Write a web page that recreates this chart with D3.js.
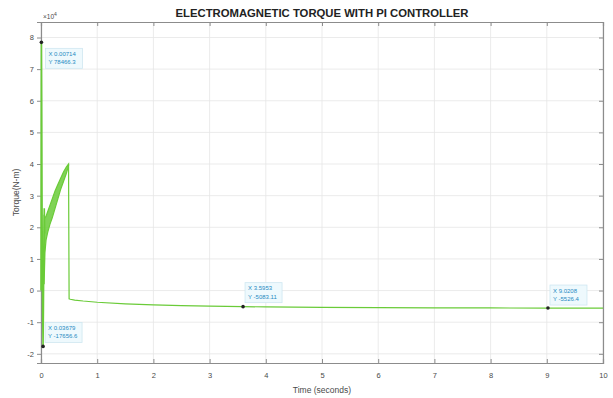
<!DOCTYPE html>
<html>
<head>
<meta charset="utf-8">
<script src="https://cdn.jsdelivr.net/npm/d3@7"></script>
<style>
  html, body { margin: 0; padding: 0; background: #ffffff; }
  svg { display: block; font-family: "Liberation Sans", Arial, sans-serif; }
</style>
</head>
<body>
<svg id="chart" width="613" height="398"></svg>
<script>
// Axis ticks
const timeTicks = [0, 1, 2, 3, 4, 5, 6, 7, 8, 9, 10];
const torqueTicks = [-20000, -10000, 0, 10000, 20000, 30000, 40000, 50000, 60000, 70000, 80000];

// Start-up transient (s, N·m)
const startTime   = [0, 0.004, 0.00714, 0.012, 0.018, 0.025, 0.031, 0.03679, 0.043, 0.05, 0.058, 0.066];
const startTorque = [0, 52000, 78466.3, 61000, 30000, 4000, -9000, -17656.6, -6000, 12000, 26000, 18000];

// Envelope of the fast oscillation before the load step
const bandTime  = [0.055, 0.07, 0.09, 0.12, 0.16, 0.2, 0.25, 0.3, 0.35, 0.4, 0.45, 0.49];
const bandUpper = [24000, 23000, 23500, 25000, 27000, 29000, 31500, 33500, 35500, 37500, 39000, 40000];
const bandLower = [2000, 12000, 16000, 18500, 21000, 23000, 26000, 29000, 32000, 34500, 37000, 39500];

// Settling after the step
const steadyTime   = [0.49, 0.5, 0.52, 0.6, 0.75, 1, 1.5, 2, 2.5, 3, 3.5953, 4, 5, 6, 7, 8, 9.0208, 10];
const steadyTorque = [40000, -2600, -2750, -3000, -3300, -3700, -4200, -4550, -4780, -4950, -5083.11, -5160, -5300, -5400, -5460, -5500, -5526.4, -5545];

// Data tips
const tipTime   = [0.00714, 0.03679, 3.5953, 9.0208];
const tipTorque = [78466.3, -17656.6, -5083.11, -5526.4];
const tipOffsets = [[4, 6], [2, -24], [2, -24], [2, -23]];

const svg = d3.select("#chart");
const L = 41, R = 603, T = 22, B = 363;

const x = d3.scaleLinear().domain([0, 10]).range([L, R]);
const y = d3.scaleLinear().domain([-22900, 84900]).range([B, T]);

const gridColor = "#e6e6e6";
const axisColor = "#8c8c8c";
const textColor = "#4a4a4a";
const lineColor = "#6acb38";

// Grid
svg.append("g").selectAll("line.gx").data(timeTicks).join("line")
  .attr("x1", d => x(d)).attr("x2", d => x(d)).attr("y1", T).attr("y2", B)
  .attr("stroke", gridColor).attr("stroke-width", 0.8);
svg.append("g").selectAll("line.gy").data(torqueTicks).join("line")
  .attr("x1", L).attr("x2", R).attr("y1", d => y(d)).attr("y2", d => y(d))
  .attr("stroke", gridColor).attr("stroke-width", 0.8);

// Axes
const fmtY = d => String(d / 10000);
const xAxis = d3.axisBottom(x).tickValues(timeTicks).tickSize(-4).tickPadding(10).tickFormat(d3.format("d"));
const yAxis = d3.axisLeft(y).tickValues(torqueTicks).tickSize(4).tickPadding(3).tickFormat(fmtY);
const xTop = d3.axisTop(x).tickValues(timeTicks).tickSize(-4).tickFormat("");
const yRight = d3.axisRight(y).tickValues(torqueTicks).tickSize(-4).tickFormat("");

function styleAxis(g) {
  g.select(".domain").attr("stroke", axisColor).attr("stroke-width", 1.2);
  g.selectAll(".tick line").attr("stroke", axisColor);
  g.selectAll(".tick text").attr("fill", textColor).attr("font-size", 7.5)
    .attr("font-family", "Liberation Sans, Arial, sans-serif");
}
svg.append("g").attr("transform", `translate(0,${B})`).call(xAxis).call(styleAxis);
svg.append("g").attr("transform", `translate(${L},0)`).call(yAxis).call(styleAxis);
svg.append("g").attr("transform", `translate(0,${T})`).call(xTop).call(styleAxis);
svg.append("g").attr("transform", `translate(${R},0)`).call(yRight).call(styleAxis);

// Exponent
const ex = svg.append("text").attr("x", L + 2).attr("y", T - 3)
  .attr("fill", textColor).attr("font-size", 6.5).text("×10");
ex.append("tspan").attr("dy", -3).attr("font-size", 5).text("4");

// Torque curve
const line = d3.line().x(d => x(d[0])).y(d => y(d[1]));
const area = d3.area().x(d => x(d[0])).y0(d => y(d[1])).y1(d => y(d[2]));

const bandData = bandTime.map((t, i) => [t, bandLower[i], bandUpper[i]]);
svg.append("path").datum(bandData).attr("d", area)
  .attr("fill", lineColor).attr("fill-opacity", 0.85)
  .attr("stroke", lineColor).attr("stroke-width", 1.2);

svg.append("path").datum(startTime.map((t, i) => [t, startTorque[i]]))
  .attr("d", line).attr("fill", "none")
  .attr("stroke", lineColor).attr("stroke-width", 1.6);

svg.append("path").datum(steadyTime.map((t, i) => [t, steadyTorque[i]]))
  .attr("d", line).attr("fill", "none")
  .attr("stroke", lineColor).attr("stroke-width", 1.2);

// Data tips
const tips = svg.append("g");
tipTime.forEach((t, i) => {
  const px = x(t), py = y(tipTorque[i]);
  const bx = px + tipOffsets[i][0], by = py + tipOffsets[i][1];
  const g = tips.append("g");
  g.append("rect").attr("x", bx).attr("y", by).attr("width", 37).attr("height", 20)
    .attr("fill", "#eef9fd").attr("stroke", "#cfe7f1").attr("stroke-width", 0.8);
  g.append("text").attr("x", bx + 3).attr("y", by + 7.5).attr("font-size", 6)
    .attr("fill", "#1f8ac2").text(`X ${t}`);
  g.append("text").attr("x", bx + 3).attr("y", by + 16).attr("font-size", 6)
    .attr("fill", "#1f8ac2").text(`Y ${tipTorque[i]}`);
  g.append("circle").attr("cx", px).attr("cy", py).attr("r", 1.8).attr("fill", "#222");
});

// Title and axis labels
svg.append("text").attr("x", (L + R) / 2).attr("y", 17).attr("text-anchor", "middle")
  .attr("font-size", 11).attr("font-weight", "bold").attr("fill", "#222")
  .attr("textLength", 293).attr("lengthAdjust", "spacingAndGlyphs")
  .text("ELECTROMAGNETIC TORQUE WITH PI CONTROLLER");
svg.append("text").attr("x", (L + R) / 2).attr("y", 393).attr("text-anchor", "middle")
  .attr("font-size", 8.5).attr("fill", textColor).text("Time (seconds)");
svg.append("text").attr("transform", `translate(19,${(T + B) / 2}) rotate(-90)`)
  .attr("text-anchor", "middle").attr("font-size", 8.5).attr("fill", textColor)
  .text("Torque(N-m)");
</script>
</body>
</html>
